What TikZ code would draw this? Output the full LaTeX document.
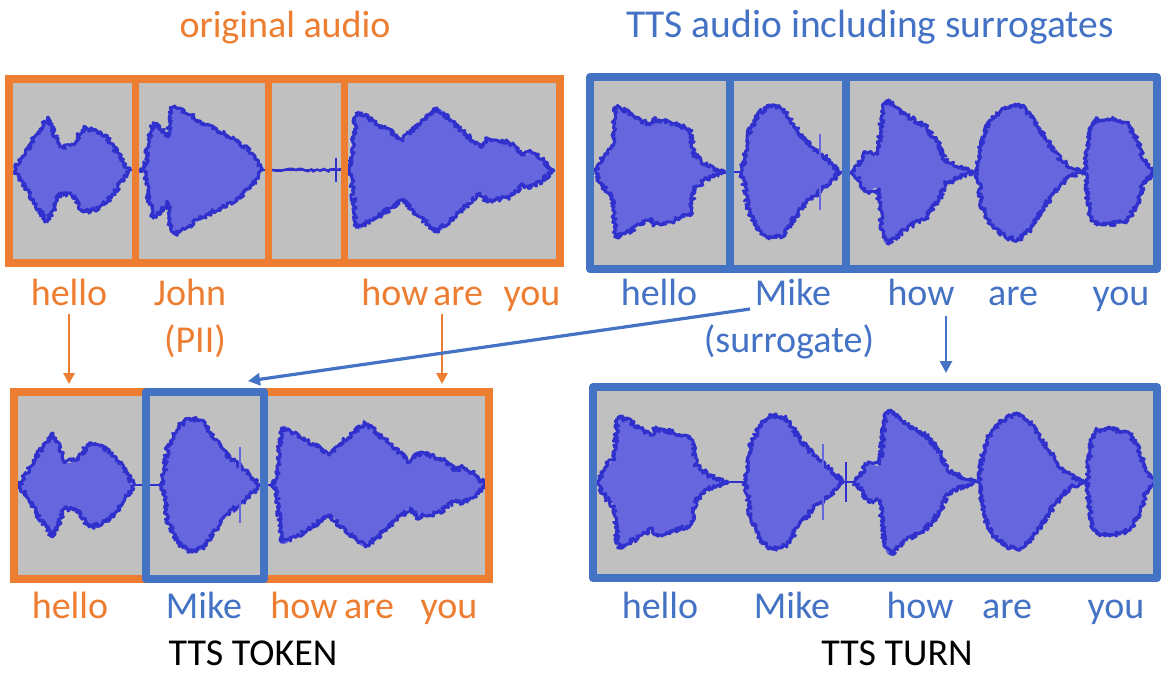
\documentclass[tikz,border=0pt]{standalone}
\usepackage{fontspec}
\setmainfont{Carlito}
\usetikzlibrary{decorations.pathmorphing,arrows.meta}
\definecolor{oorange}{HTML}{ED7D31}
\definecolor{oblue}{HTML}{4472C4}
\definecolor{panelgray}{HTML}{C0C0C0}
\definecolor{wvfillc}{RGB}{102,102,222}
\definecolor{wvedgec}{RGB}{48,48,204}
\tikzset{
  wvedge/.style={draw=wvedgec, line width=3pt, line join=round,
    decorate, decoration={random steps, segment length=1.3pt, amplitude=2.4pt}},
  wvmid/.style={draw=wvedgec, line width=2.2pt},
  panelfill/.style={fill=panelgray},
  oframe/.style={draw=oorange, line width=8pt},
  bframe/.style={draw=oblue, line width=8pt, line join=round},
  odiv/.style={draw=oorange, line width=7pt},
  bdiv/.style={draw=oblue, line width=8pt},
  lbl/.style={inner sep=0pt, anchor=base, font=\fontsize{38}{40}\selectfont},
  olbl/.style={lbl, text=oorange},
  blbl/.style={lbl, text=oblue},
  klbl/.style={lbl, text=black},
  oarrow/.style={draw=oorange, line width=2.8pt, -{Triangle[width=11pt,length=11pt]}},
  barrow/.style={draw=oblue, line width=3.2pt, -{Triangle[width=12pt,length=12pt]}},
}
\newcommand\wv[2]{%
  \begin{scope}[#1]
    \foreach \sg in {1,-1}{%
      \begin{scope}[yscale=\sg]
        \fill[wvfillc] plot[smooth,tension=0.55] coordinates {#2} -- cycle;
        \draw[wvedge] plot coordinates {#2};
      \end{scope}}
  \end{scope}}
\newcommand\blobHelloO[1]{\wv{#1}{(0,0)(8,12)(22,35)(33.5,52)(40,38)(46,23)(57.5,25)(70,42)(80,40)(93,32)(104,17)(115,0)}}
\newcommand\blobHowO[1]{\wv{#1}{(0,0)(4,10)(8,57)(21,52)(43,38)(54,30)(69,45)(89,62)(110,43)(132,23)(139,32)(161,27)(176,15)(183,18)(195,10)(205,0)}}
\newcommand\blobHelloB[1]{\wv{#1}{(0,0)(8,15)(17,25)(21,65)(30,62)(45,53)(55,47)(58,53)(75,50)(95,42)(99,18)(111,7)(123,2)(131,0)}}
\newcommand\blobMike[1]{\wv{#1}{(0,0)(4,15)(6,35)(17,58)(28,67)(43,63)(54,45)(69,27)(84,15)(99,0)}
  \draw[wvfillc, line width=1.6pt, #1] (79,-38) -- (79,38);}
\newcommand\blobHowB[1]{\wv{#1}{(0,0)(6,6)(14,20)(26,18)(31,65)(37,72)(52,58)(74,45)(87,28)(93,12)(108,5)(123,0)}}
\newcommand\blobAreB[1]{\wv{#1}{(0,0)(5,35)(13,52)(28,65)(41,68)(54,57)(69,32)(84,12)(95,4)(106,0)}}
\newcommand\blobYouB[1]{\wv{#1}{(0,0)(4,40)(10,52)(25,53)(43,48)(53,30)(58,12)(65,4)(69,0)}}
\begin{document}
\begin{tikzpicture}[x=1pt,y=-1pt]
\pgfmathsetseed{11}
\useasboundingbox (0,0) rectangle (1162,673);
\fill[white] (0,0) rectangle (1162,673);

% ---------- top-left panel: original audio ----------
\fill[panelfill] (9,79) rectangle (560,263);
\draw[wvmid] (14,170) -- (553,170);
\draw[wvedgec, line width=2.5pt, decorate, decoration={random steps, segment length=3pt, amplitude=1.5pt}] (268,170) -- (344,170);
\draw[wvedgec, line width=1.8pt] (336,158) -- (336,182);
\blobHelloO{shift={(14,170)}}
\wv{shift={(0,170)}}{(138,0)(145,3)(149,30)(153,47)(160,42)(168,33)(171,60)(175,64)(190,55)(203,47)(220,38)(236,30)(251,17)(262,0)}
\blobHowO{shift={(348,170)}}
\draw[oframe] (9,79) rectangle (560,263);
\draw[odiv] (135,79) -- (135,263);
\draw[odiv] (268,79) -- (268,263);
\draw[odiv] (344,79) -- (344,263);

% ---------- top-right panel: TTS audio ----------
\fill[panelfill] (590,77) rectangle (1157,269);
\draw[wvmid] (595,172) -- (1154,172);
\blobHelloB{shift={(595,172)}}
\blobMike{shift={(741,172)}}
\blobHowB{shift={(852,172)}}
\blobAreB{shift={(977,172)}}
\blobYouB{shift={(1085,172)}}
\draw[bframe] (590,77) rectangle (1157,269);
\draw[bdiv] (730,77) -- (730,269);
\draw[bdiv] (846,77) -- (846,269);

% ---------- bottom-left panel: TTS token ----------
\fill[panelfill] (14,392) rectangle (489,579);
\draw[wvmid] (19,485) -- (487,485);
\blobHelloO{shift={(19,485)}}
\blobMike{shift={(161,485)}}
\blobHowO{shift={(273,485)},xscale=1.04}
\draw[oframe] (14,392) rectangle (489,579);
\draw[bframe] (146,392) rectangle (264,579);

% ---------- bottom-right panel: TTS turn ----------
\fill[panelfill] (593,387) rectangle (1157,578);
\draw[wvmid] (597,482) -- (1154,482);
\blobHelloB{shift={(597,482)}}
\blobMike{shift={(744,482)}}
\draw[wvedgec, line width=1.8pt] (846,462) -- (846,502);
\blobHowB{shift={(854,482)}}
\blobAreB{shift={(979,482)}}
\blobYouB{shift={(1087,482)}}
\draw[bframe] (593,387) rectangle (1157,578);

% ---------- titles ----------
\node[olbl] (ttlO) at (285,37) {original audio};
\node[blbl, font=\fontsize{39.5}{41}\selectfont] (ttlB) at (870,37) {TTS audio including surrogates};

% ---------- top labels ----------
\node[olbl] (oHello) at (69,305) {hello};
\node[olbl] (oJohn) at (190,305) {John};
\node[olbl] (oPII) at (195,352) {(PII)};
\node[olbl] (oHow) at (395,305) {how};
\node[olbl] (oAre) at (458,305) {are};
\node[olbl] (oYou) at (532,305) {you};

\node[blbl] (bHello) at (659,305) {hello};
\node[blbl] (bMike) at (793,305) {Mike};
\node[blbl] (bSurr) at (789,352) {(surrogate)};
\node[blbl] (bHow) at (921,305) {how};
\node[blbl] (bAre) at (1013,305) {are};
\node[blbl] (bYou) at (1121,305) {you};

% ---------- bottom labels ----------
\node[olbl] (tHello) at (70,618) {hello};
\node[blbl] (tMike) at (204,618) {Mike};
\node[olbl] (tHow) at (304,618) {how};
\node[olbl] (tAre) at (369,618) {are};
\node[olbl] (tYou) at (449,618) {you};
\node[klbl] (tToken) at (253,665) {TTS TOKEN};

\node[blbl] (uHello) at (660,618) {hello};
\node[blbl] (uMike) at (792,618) {Mike};
\node[blbl] (uHow) at (920,618) {how};
\node[blbl] (uAre) at (1007,618) {are};
\node[blbl] (uYou) at (1116,618) {you};
\node[klbl] (uTurn) at (897,665) {TTS TURN};

% ---------- arrows ----------
\coordinate (a1e) at (69,384);
\coordinate (a2s) at (442,314);
\coordinate (a2e) at (442,384);
\coordinate (b1s) at (750,309);
\coordinate (b1e) at (248,381);
\coordinate (b2s) at (946,316);
\coordinate (b2e) at (946,373);
\draw[oarrow, shorten <=9pt] (oHello.south) -- (a1e);
\draw[oarrow] (a2s) -- (a2e);
\draw[barrow] (b1s) -- (b1e);
\draw[barrow, line width=2.6pt] (b2s) -- (b2e);
\end{tikzpicture}
\end{document}
